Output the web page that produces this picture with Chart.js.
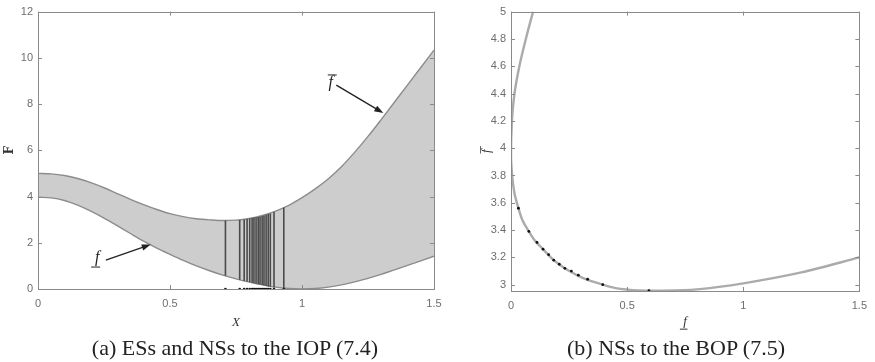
<!DOCTYPE html>
<html><head><meta charset="utf-8">
<script src="https://cdn.jsdelivr.net/npm/chart.js@4.4.1/dist/chart.umd.min.js"></script>
<style>
html,body{margin:0;padding:0;background:#fff;width:875px;height:362px;overflow:hidden;}
#wa{position:absolute;left:0;top:0;width:460px;height:340px;}
#wb{position:absolute;left:480px;top:0;width:395px;height:340px;}
.cap{position:absolute;top:336px;font-family:'Liberation Serif','Times New Roman',serif;font-size:22px;line-height:24px;color:#222;white-space:nowrap;transform:translateX(-50%);}
</style></head><body>
<div id="wa"><canvas id="ca" width="460" height="340"></canvas></div>
<div id="wb"><canvas id="cb" width="395" height="340"></canvas></div>
<div class="cap" style="left:235px">(a) ESs and NSs to the IOP (7.4)</div>
<div class="cap" style="left:676px">(b) NSs to the BOP (7.5)</div>
<script>
// ---------- data ----------
const xGrid  = [0,0.05,0.1,0.15,0.2,0.25,0.3,0.35,0.4,0.45,0.5,0.55,0.6,0.65,0.7,0.75,0.8,0.85,0.9,0.95,1,1.05,1.1,1.15,1.2,1.25,1.3,1.35,1.4,1.45,1.5];
const upperF = [5.00,4.98,4.91,4.78,4.60,4.38,4.13,3.88,3.65,3.44,3.26,3.13,3.04,2.99,2.96,2.98,3.05,3.18,3.37,3.62,3.95,4.33,4.77,5.30,5.92,6.60,7.33,8.08,8.83,9.58,10.33];
const lowerF = [3.97,3.94,3.83,3.63,3.37,3.07,2.74,2.40,2.07,1.77,1.50,1.24,1.00,0.79,0.60,0.44,0.30,0.18,0.08,0.02,0.00,0.02,0.08,0.18,0.31,0.46,0.63,0.83,1.02,1.22,1.42];

const esX   = [0.710,0.764,0.781,0.792,0.802,0.811,0.818,0.826,0.834,0.841,0.849,0.856,0.864,0.872,0.880,0.894,0.931];
const esUp  = [2.96,2.99,3.01,3.03,3.05,3.07,3.09,3.10,3.12,3.14,3.16,3.18,3.21,3.24,3.27,3.33,3.53];
const esLow = [0.57,0.40,0.35,0.32,0.29,0.27,0.25,0.23,0.21,0.19,0.17,0.15,0.13,0.11,0.10,0.07,0.03];

const bopLow = [1.5,1.25,1.0,0.8,0.65,0.55,0.45,0.395,0.33,0.29,0.232,0.184,0.138,0.1,0.077,0.05,0.032,0.015,0.005,0.0,0.004,0.015,0.036,0.064,0.095];
const bopUp  = [3.2,3.09,3.01,2.966,2.956,2.958,2.975,3.0,3.035,3.065,3.12,3.18,3.26,3.33,3.39,3.47,3.56,3.67,3.8,3.95,4.2,4.4,4.6,4.8,5.0];

const nsLow = [0.594,0.395,0.33,0.29,0.26,0.232,0.208,0.184,0.162,0.138,0.112,0.077,0.032];
const nsUp  = [2.956,3.0,3.04,3.07,3.10,3.12,3.15,3.18,3.22,3.26,3.31,3.39,3.56];

const xTicksA = [0,0.5,1,1.5];
const yTicksA = [0,2,4,6,8,10,12];
const xTicksB = [0,0.5,1,1.5];
const yTicksB = [3,3.2,3.4,3.6,3.8,4,4.2,4.4,4.6,4.8,5];

// ---------- helpers ----------
const tickFont = {family:"'Liberation Sans', Arial, sans-serif", size:11};
const tickColor = '#6e6e6e';
const axisColor = '#8a8a8a';

function pairs(xs, ys){ return xs.map((v,i)=>({x:v, y:ys[i]})); }
function ticksFrom(arr){ return s => { s.ticks = arr.map(v=>({value:v})); }; }

const boxPlugin = {
  id:'mbox',
  afterDatasetsDraw(chart){
    const {ctx, chartArea:a, scales:{x,y}} = chart;
    ctx.save();
    ctx.strokeStyle = axisColor; ctx.lineWidth = 1;
    ctx.strokeRect(Math.round(a.left)+0.5, Math.round(a.top)+0.5, Math.round(a.right-a.left), Math.round(a.bottom-a.top));
    const L = 4;
    ctx.beginPath();
    x.ticks.forEach(t=>{
      const p = Math.round(x.getPixelForValue(t.value))+0.5;
      ctx.moveTo(p, a.bottom); ctx.lineTo(p, a.bottom-L);
      ctx.moveTo(p, a.top); ctx.lineTo(p, a.top+L);
    });
    y.ticks.forEach(t=>{
      const p = Math.round(y.getPixelForValue(t.value))+0.5;
      ctx.moveTo(a.left, p); ctx.lineTo(a.left+L, p);
      ctx.moveTo(a.right, p); ctx.lineTo(a.right-L, p);
    });
    ctx.stroke();
    ctx.restore();
  }
};

function drawBarF(ctx, x, y, size, deco){
  ctx.font = `italic ${size}px 'Liberation Serif', serif`;
  ctx.textAlign = 'center'; ctx.textBaseline = 'middle';
  ctx.fillText('f', x, y);
  const w = size*0.5;
  ctx.beginPath();
  ctx.lineWidth = 1;
  if(deco==='over'){ ctx.moveTo(x-w/2+1, y-size*0.52); ctx.lineTo(x+w/2+2, y-size*0.52); }
  else { ctx.moveTo(x-w/2-2, y+size*0.55); ctx.lineTo(x+w/2-1, y+size*0.55); }
  ctx.stroke();
}

function arrow(ctx, x1, y1, x2, y2){
  const ang = Math.atan2(y2-y1, x2-x1), c = Math.cos(ang), s = Math.sin(ang);
  const hl = 9, hw = 3.2;
  ctx.beginPath(); ctx.moveTo(x1,y1); ctx.lineTo(x2-hl*0.8*c, y2-hl*0.8*s); ctx.stroke();
  ctx.beginPath(); ctx.moveTo(x2,y2);
  ctx.lineTo(x2-hl*c+hw*s, y2-hl*s-hw*c);
  ctx.lineTo(x2-hl*c-hw*s, y2-hl*s+hw*c);
  ctx.closePath(); ctx.fill();
}

const textA = {
  id:'textA',
  afterDraw(chart){
    const {ctx, chartArea:a, scales:{x,y}} = chart;
    ctx.save();
    ctx.fillStyle = '#333'; ctx.strokeStyle = '#333';
    ctx.save(); ctx.translate(10, (a.top+a.bottom)/2); ctx.rotate(-Math.PI/2);
    ctx.font = "bold 12px 'DejaVu Serif', serif"; ctx.textAlign='center'; ctx.textBaseline='middle';
    ctx.fillText('F', 0, 0); ctx.restore();
    ctx.font = "italic 13px 'Liberation Serif', serif"; ctx.textAlign='center'; ctx.textBaseline='middle';
    ctx.fillText('X', (a.left+a.right)/2, 323);
    ctx.fillStyle = '#222'; ctx.strokeStyle = '#222';
    drawBarF(ctx, x.getPixelForValue(0.224), y.getPixelForValue(1.33), 16, 'under');
    ctx.lineWidth = 1.3;
    arrow(ctx, x.getPixelForValue(0.257), y.getPixelForValue(1.25), x.getPixelForValue(0.427), y.getPixelForValue(1.92));
    drawBarF(ctx, x.getPixelForValue(1.109), y.getPixelForValue(8.9), 16, 'over');
    ctx.lineWidth = 1.3;
    arrow(ctx, x.getPixelForValue(1.13), y.getPixelForValue(8.82), x.getPixelForValue(1.308), y.getPixelForValue(7.61));
    ctx.restore();
  }
};

const textB = {
  id:'textB',
  afterDraw(chart){
    const {ctx, chartArea:a} = chart;
    ctx.save();
    ctx.fillStyle = '#333'; ctx.strokeStyle = '#333';
    ctx.save(); ctx.translate(7, (a.top+a.bottom)/2); ctx.rotate(-Math.PI/2);
    drawBarF(ctx, 0, 0, 13, 'over'); ctx.restore();
    drawBarF(ctx, (a.left+a.right)/2, 322, 13, 'under');
    ctx.restore();
  }
};

function scaleOpts(min, max, arr, sizeKey, sizeVal, pad){
  return {
    type:'linear', min, max,
    afterBuildTicks: ticksFrom(arr),
    grid:{display:false, drawTicks:false},
    border:{display:false},
    ticks:{font:tickFont, color:tickColor, padding:pad, autoSkip:false, maxRotation:0, callback:v=>String(+v.toFixed(2))},
    afterFit: s => { s[sizeKey] = sizeVal; }
  };
}

// ---------- left chart ----------
const esLines = [];
esX.forEach((v,i)=>{ esLines.push({x:v,y:esLow[i]}, {x:v,y:esUp[i]}, {x:v,y:null}); });

new Chart(document.getElementById('ca'), {
  type:'scatter',
  data:{datasets:[
    {data:esLines, showLine:true, spanGaps:false, borderColor:'#4a4a4a', borderWidth:1.6, pointRadius:0, order:0},
    {data:esX.map(v=>({x:v,y:0})), showLine:false, pointRadius:1.3, pointBackgroundColor:'#111', pointBorderWidth:0, order:1},
    {data:pairs(xGrid, upperF), showLine:true, borderColor:'#8c8c8c', borderWidth:1.4, pointRadius:0, cubicInterpolationMode:'monotone', fill:'+1', backgroundColor:'#cdcdcd', order:2},
    {data:pairs(xGrid, lowerF), showLine:true, borderColor:'#8c8c8c', borderWidth:1.4, pointRadius:0, cubicInterpolationMode:'monotone', fill:false, order:3}
  ]},
  options:{
    responsive:false, animation:false, devicePixelRatio:1,
    layout:{padding:{top:9, right:26, left:0, bottom:0}},
    plugins:{legend:{display:false}, tooltip:{enabled:false}, filler:{drawTime:'beforeDatasetsDraw'}},
    scales:{
      x: scaleOpts(0, 1.5, xTicksA, 'height', 51, 8),
      y: scaleOpts(0, 12, yTicksA, 'width', 38, 5)
    }
  },
  plugins:[boxPlugin, textA]
});

// ---------- right chart ----------
new Chart(document.getElementById('cb'), {
  type:'scatter',
  data:{datasets:[
    {data:pairs(nsLow, nsUp), showLine:false, pointRadius:1.4, pointBackgroundColor:'#111', pointBorderWidth:0, order:0},
    {data:pairs(bopLow, bopUp), showLine:true, borderColor:'#ababab', borderWidth:2.4, pointRadius:0, tension:0.3, order:1}
  ]},
  options:{
    responsive:false, animation:false, devicePixelRatio:1,
    layout:{padding:{top:10, right:8, left:0, bottom:0}},
    plugins:{legend:{display:false}, tooltip:{enabled:false}},
    scales:{
      x: scaleOpts(0, 1.5, xTicksB, 'height', 49, 8),
      y: scaleOpts(2.954, 5, yTicksB, 'width', 31, 5)
    }
  },
  plugins:[boxPlugin, textB]
});
</script>
</body></html>
